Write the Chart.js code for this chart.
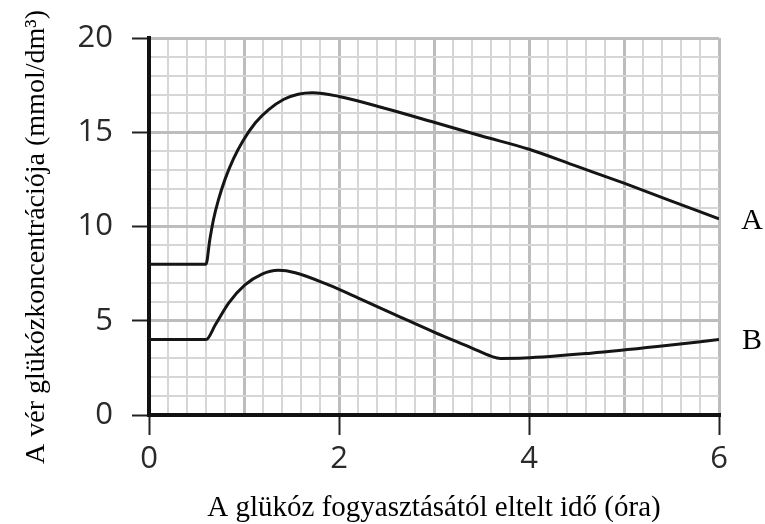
<!DOCTYPE html>
<html><head><meta charset="utf-8">
<script src="https://cdn.jsdelivr.net/npm/chart.js@4.4.1/dist/chart.umd.min.js"></script>
<style>html,body{margin:0;padding:0;background:#fff;}#wrap{width:765px;height:524px;}</style>
</head><body><div id="wrap"><canvas id="c" width="765" height="524"></canvas></div>
<script>
// ---- data ----
const seriesNames = ['A', 'B'];
const timeA = [0, 0.6, 0.64, 0.68, 0.73, 0.80, 0.89, 0.99, 1.12, 1.26, 1.42, 1.57, 1.72, 2.0, 2.5, 3.0, 3.5, 4.0, 4.5, 5.0, 5.5, 6.0];
const glucoseA = [8, 8, 9.3, 10.4, 11.4, 12.5, 13.6, 14.55, 15.5, 16.2, 16.75, 17.02, 17.1, 16.9, 16.25, 15.53, 14.8, 14.1, 13.2, 12.3, 11.35, 10.4];
const timeB = [0, 0.6, 0.7, 0.84, 1.01, 1.19, 1.36, 1.54, 1.89, 2.24, 2.6, 3.0, 3.4, 3.6, 3.7, 3.95, 4.65, 5.35, 6.0];
const glucoseB = [4, 4, 4.8, 5.95, 6.9, 7.48, 7.68, 7.55, 6.9, 6.12, 5.3, 4.4, 3.55, 3.12, 3.0, 3.02, 3.28, 3.63, 4.0];
const xTickLabels = [0, 2, 4, 6];
const yTickLabels = [0, 5, 10, 15, 20];
const xTitle = 'A glükóz fogyasztásától eltelt idő (óra)';
const yTitle = 'A vér glükózkoncentrációja (mmol/dm³)   ';

const r3 = v => Math.round(v * 1000) / 1000;
const isInt = v => Math.abs(v - Math.round(v)) < 1e-6;
const isFive = v => isInt(v) && Math.round(v) % 5 === 0;

const endLabels = {
  id: 'endLabels',
  afterDatasetsDraw(chart) {
    const { ctx, chartArea, scales } = chart;
    ctx.save();
    ctx.font = '30px "Liberation Serif"';
    ctx.fillStyle = '#000';
    ctx.textAlign = 'center';
    ctx.textBaseline = 'middle';
    chart.data.datasets.forEach(ds => {
      const last = ds.data[ds.data.length - 1];
      ctx.fillText(ds.label, chartArea.right + 33, scales.y.getPixelForValue(last.y) + 2);
    });
    ctx.restore();
  }
};

const lineStyle = { borderColor: '#151515', borderWidth: 3, pointRadius: 0, fill: false, cubicInterpolationMode: 'monotone' };

new Chart(document.getElementById('c'), {
  type: 'line',
  data: {
    datasets: [
      { label: seriesNames[0], data: timeA.map((t, i) => ({ x: t, y: glucoseA[i] })), ...lineStyle },
      { label: seriesNames[1], data: timeB.map((t, i) => ({ x: t, y: glucoseB[i] })), ...lineStyle }
    ]
  },
  options: {
    responsive: false,
    devicePixelRatio: 1,
    animation: false,
    layout: { padding: { top: 38, right: 46, left: 0, bottom: 0 } },
    plugins: { legend: { display: false }, tooltip: { enabled: false } },
    scales: {
      x: {
        type: 'linear', min: 0, max: 6,
        afterFit(s) { s.height = 109; },
        grid: {
          color: c => isInt(c.tick.value) ? '#bdbdbd' : '#d6d6d6',
          lineWidth: c => isInt(c.tick.value) ? 3 : 2,
          tickColor: c => xTickLabels.includes(r3(c.tick.value)) ? '#222' : 'rgba(0,0,0,0)',
          tickWidth: 2,
          tickLength: 20
        },
        border: { color: '#111', width: 4 },
        ticks: {
          stepSize: 0.2, autoSkip: false, maxRotation: 0, padding: 6,
          font: { family: '"Open Sans"', size: 31 }, color: '#2a2a2a',
          callback: v => xTickLabels.includes(r3(v)) ? String(r3(v)) : ''
        },
        title: { display: true, text: xTitle, color: '#000', font: { family: '"Liberation Serif"', size: 29, lineHeight: 1.0 }, padding: { top: 0, bottom: 1 } }
      },
      y: {
        type: 'linear', min: 0, max: 20,
        afterFit(s) { s.width = 149; },
        grid: {
          color: c => isFive(c.tick.value) ? '#bdbdbd' : '#d6d6d6',
          lineWidth: c => isFive(c.tick.value) ? 3 : 2,
          tickColor: c => yTickLabels.includes(r3(c.tick.value)) ? '#222' : 'rgba(0,0,0,0)',
          tickWidth: 2,
          tickLength: 17
        },
        border: { color: '#111', width: 4 },
        ticks: {
          stepSize: 1, autoSkip: false, padding: 19,
          font: { family: '"Open Sans"', size: 31 }, color: '#2a2a2a',
          callback: v => yTickLabels.includes(r3(v)) ? String(r3(v)) : ''
        },
        title: { display: true, text: yTitle, color: '#000', font: { family: '"Liberation Serif"', size: 28, lineHeight: 1.0 }, padding: { top: 23, bottom: 0 } }
      }
    }
  },
  plugins: [endLabels]
});
</script>
</body></html>
